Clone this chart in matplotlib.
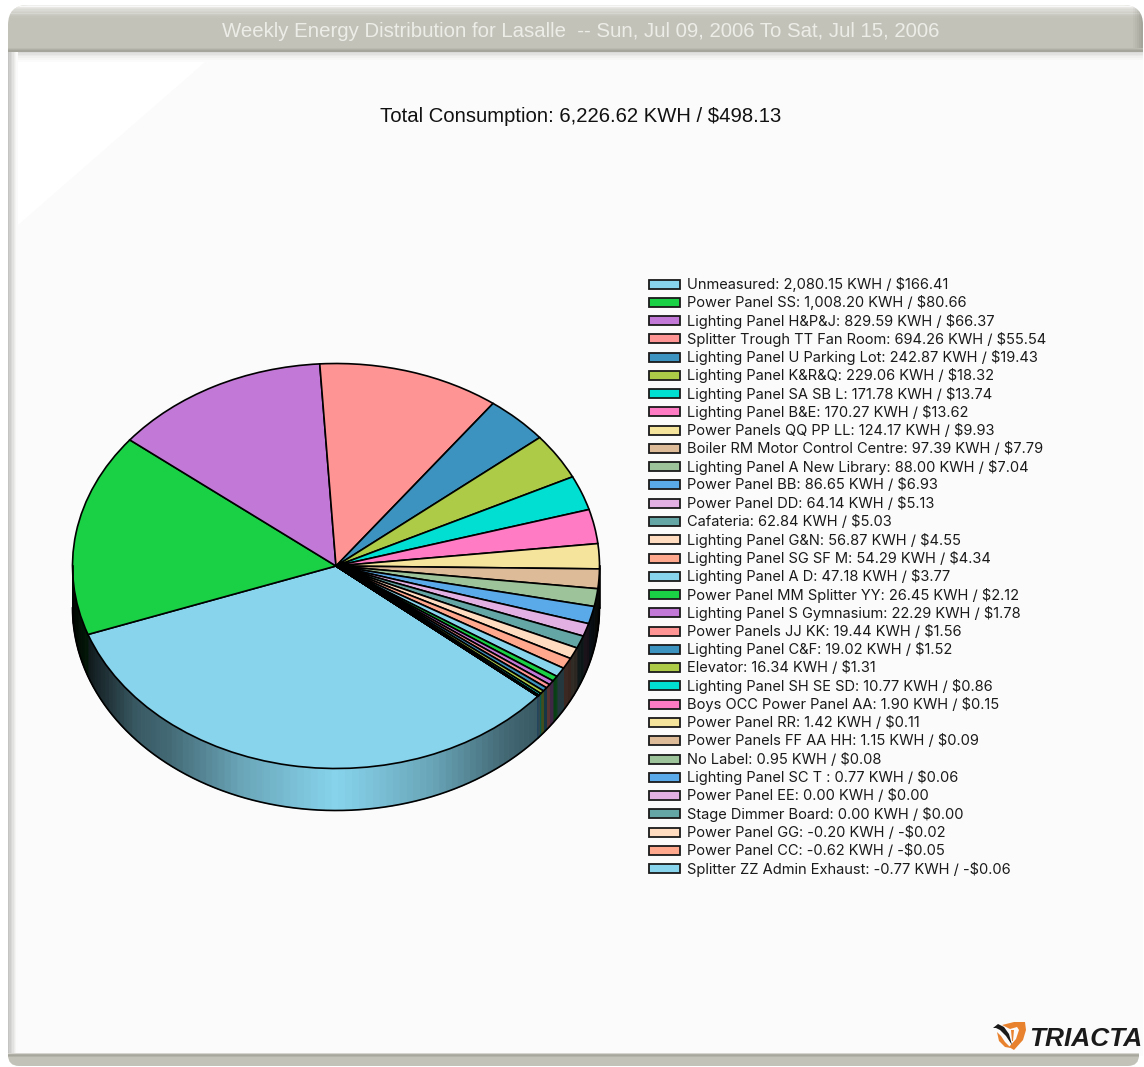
import numpy as np
import matplotlib
matplotlib.use('Agg')
import matplotlib.pyplot as plt
from matplotlib.patches import Rectangle, Polygon, FancyBboxPatch

names = ['Unmeasured', 'Power Panel SS', 'Lighting Panel H&P&J', 'Splitter Trough TT Fan Room',
         'Lighting Panel U Parking Lot', 'Lighting Panel K&R&Q', 'Lighting Panel SA SB L',
         'Lighting Panel B&E', 'Power Panels QQ PP LL', 'Boiler RM Motor Control Centre',
         'Lighting Panel A New Library', 'Power Panel BB', 'Power Panel DD', 'Cafateria',
         'Lighting Panel G&N', 'Lighting Panel SG SF M', 'Lighting Panel A D',
         'Power Panel MM Splitter YY', 'Lighting Panel S Gymnasium', 'Power Panels JJ KK',
         'Lighting Panel C&F', 'Elevator', 'Lighting Panel SH SE SD', 'Boys OCC Power Panel AA',
         'Power Panel RR', 'Power Panels FF AA HH', 'No Label', 'Lighting Panel SC T ',
         'Power Panel EE', 'Stage Dimmer Board', 'Power Panel GG', 'Power Panel CC',
         'Splitter ZZ Admin Exhaust']
kwh = [2080.15, 1008.20, 829.59, 694.26, 242.87, 229.06, 171.78, 170.27, 124.17, 97.39,
       88.00, 86.65, 64.14, 62.84, 56.87, 54.29, 47.18, 26.45, 22.29, 19.44, 19.02, 16.34,
       10.77, 1.90, 1.42, 1.15, 0.95, 0.77, 0.00, 0.00, -0.20, -0.62, -0.77]
cost = [166.41, 80.66, 66.37, 55.54, 19.43, 18.32, 13.74, 13.62, 9.93, 7.79, 7.04, 6.93,
        5.13, 5.03, 4.55, 4.34, 3.77, 2.12, 1.78, 1.56, 1.52, 1.31, 0.86, 0.15, 0.11, 0.09,
        0.08, 0.06, 0.00, 0.00, -0.02, -0.05, -0.06]
palette = ['#87D4EC', '#1AD045', '#C278D6', '#FF9494', '#3D93BF', '#ADCB46', '#00DFD2',
           '#FF7CC4', '#F5E49C', '#DEBB98', '#9CC39A', '#5AA9E8', '#E3B0E4', '#64A6A6',
           '#FFDCC0', '#FFA88E']
title = 'Weekly Energy Distribution for Lasalle  -- Sun, Jul 09, 2006 To Sat, Jul 15, 2006'
total = 'Total Consumption: 6,226.62 KWH / $498.13'

W, H = 1144, 1067
plt.rcParams['font.family'] = ['Liberation Sans', 'DejaVu Sans']
fig = plt.figure(figsize=(W / 100, H / 100), dpi=100, facecolor='white')


def money(v):
    return f'-${-v:.2f}' if v < 0 else f'${v:.2f}'


# page frame, in pixel coordinates
bg = fig.add_axes([0, 0, 1, 1])
bg.set_xlim(0, W)
bg.set_ylim(H, 0)
bg.axis('off')
bg.add_patch(Rectangle((8, 50), 1135, 1006, fc='#FBFBFB', ec='none'))
bg.add_patch(Polygon([(18, 62), (205, 62), (18, 225)], fc='white', ec='none'))
for i, c in enumerate(['#DADAD8', '#E2E2E0', '#EAEAE8', '#F1F1F0', '#F7F7F6', '#FBFBFB']):
    bg.add_patch(Rectangle((10, 51 + i * 1.8), 1133, 2, fc=c, ec='none'))
# soft edge on the left of the panel
for i, c in enumerate(['#C4C4C2', '#CECECC', '#D8D8D6', '#E2E2E0', '#ECECEB', '#F4F4F3', '#FAFAFA']):
    bg.add_patch(Rectangle((8 + i * 1.4, 50), 1.5, 1006, fc=c, ec='none'))
# title bar
bar = FancyBboxPatch((8, 5), 1135, 70, boxstyle='round,pad=0,rounding_size=20', fc='#C3C2B9', ec='none')
bg.add_patch(bar)
bar.set_clip_path(Rectangle((0, 0), W, 51, transform=bg.transData))
for i, a in enumerate([0.75, 0.62, 0.5, 0.4, 0.3, 0.22, 0.15, 0.09, 0.04]):
    s = Rectangle((0, 5 + i * 1.4), W, 1.5, fc='white', alpha=a, ec='none')
    bg.add_patch(s)
    s.set_clip_path(bar.get_path(), bar.get_transform())
for i, a in enumerate([0.06, 0.12, 0.2, 0.3, 0.38]):
    s = Rectangle((1133 + i * 2, 5), 2, 46, fc='#77766D', alpha=a, ec='none')
    bg.add_patch(s)
    s.set_clip_path(bar.get_path(), bar.get_transform())
for i, c in enumerate(['#BBBAB1', '#B0AFA6', '#A6A59C']):
    bg.add_patch(Rectangle((8, 47.5 + i * 1.3), 1135, 1.4, fc=c, ec='none'))
# bottom bar, rounded at the lower corners
foot = FancyBboxPatch((8, 1020), 1131, 46, boxstyle='round,pad=0,rounding_size=11', fc='#C3C2B9', ec='none')
bg.add_patch(foot)
foot.set_clip_path(Rectangle((0, 1054), W, 13, transform=bg.transData))
for i, c in enumerate(['#D5D4CE', '#B0AFA6', '#A8A79E', '#B4B3AA']):
    bg.add_patch(Rectangle((8, 1053 + i), 1131, 1.1, fc=c, ec='none'))

bg.text(581, 31.5, title, color='#EDEDE8', fontsize=14.7, ha='center', va='center')
bg.text(581, 116.5, total, color='#111111', fontsize=14.55, ha='center', va='center')

# legend
row0, row_h = 284.5, 18.27
for i, (n, k, c) in enumerate(zip(names, kwh, cost)):
    y = row0 + i * row_h
    bg.add_patch(Rectangle((648.5, y - 5), 31, 9, fc=palette[i % len(palette)], ec='#1A1A1A', lw=1.3))
    bg.text(687, y, f'{n}: {k:,.2f} KWH / {money(c)}', fontsize=10.55, color='#1A1A1A',
            family=['Inter', 'Liberation Sans'], ha='left', va='center')

# pie: top face spans x 72-599, y 363-768 in pixels
left, right, top, bottom = 72.5, 599.5, 363.5, 768.5
depth = 42 / ((bottom - top) / 2)
ax = fig.add_axes([left / W, 1 - (bottom + 42) / H, (right - left) / W, (bottom + 42 - top) / H])
ax.patch.set_alpha(0)

vals = np.clip(np.array(kwh), 0, None)
start = -40.0
colors = [palette[i % len(palette)] for i in range(len(vals))]

# wall of the pie, drawn slice by slice in thin strips
edges = start - np.concatenate([[0], np.cumsum(vals)]) / vals.sum() * 360
for i in range(len(vals)):
    a0, a1 = edges[i], edges[i + 1]
    if vals[i] == 0:
        continue
    n = max(1, int((a0 - a1) / 1.5))
    th = np.radians(np.linspace(a0, a1, n + 1))
    base = np.array(matplotlib.colors.to_rgb(colors[i]))
    for t0, t1 in zip(th[:-1], th[1:]):
        if np.sin((t0 + t1) / 2) > 0:
            continue
        x0, x1 = np.cos(t0), np.cos(t1)
        s0, s1 = min(np.sin(t0), 0), min(np.sin(t1), 0)
        xm = abs((x0 + x1) / 2)
        shade = np.interp(xm, [0, 0.36, 0.63, 0.76, 0.94, 1], [1, 0.78, 0.5, 0.42, 0.12, 0.03])
        ax.fill([x0, x1, x1, x0], [s0, s1, s1 - depth, s0 - depth], color=base * shade, lw=0.7)

t = np.radians(np.linspace(0, -180, 300))
ax.plot(np.cos(t), np.sin(t) - depth, color='black', lw=1.2)
ax.plot([-1, -1], [0, -depth], color='black', lw=1.2)
ax.plot([1, 1], [0, -depth], color='black', lw=1.2)

ax.pie(vals, colors=colors, startangle=start, counterclock=False, radius=1,
       wedgeprops={'edgecolor': 'black', 'linewidth': 1.2})
ax.set_aspect('auto')
ax.set_xlim(-1, 1)
ax.set_ylim(-1 - depth, 1)
for p in ax.patches + ax.lines:
    p.set_clip_on(False)

# logo
logo = fig.add_axes([0, 0, 1, 1])
logo.set_xlim(0, W)
logo.set_ylim(H, 0)
logo.axis('off')
logo.patch.set_alpha(0)
orange = '#E9822F'
logo.add_patch(Polygon([(1002, 1025), (1014, 1022), (1025, 1022), (1026, 1030), (1023, 1040), (1014, 1050),
                        (1009, 1047), (1016, 1039), (1019, 1030), (1017, 1027), (1010, 1029)],
                       fc=orange, ec='none'))
logo.add_patch(Polygon([(997, 1032), (1001, 1036), (1005, 1042), (1011, 1048), (1005, 1047), (999, 1041)],
                       fc=orange, ec='none'))
logo.add_patch(Polygon([(1011, 1030), (1014, 1030), (1013, 1041), (1012, 1041)], fc=orange, ec='none'))
logo.add_patch(Polygon([(993, 1028), (998, 1024), (1004, 1027), (1009, 1034), (1012, 1045), (1006, 1036),
                        (1000, 1030), (996, 1028)], fc='#1A1A1A', ec='none'))
logo.text(1029, 1038.5, 'TRIACTA', fontsize=18.9, fontweight='bold', fontstyle='italic', color='#1A1A1A',
          ha='left', va='center')

fig.savefig('out.png', dpi=100)
